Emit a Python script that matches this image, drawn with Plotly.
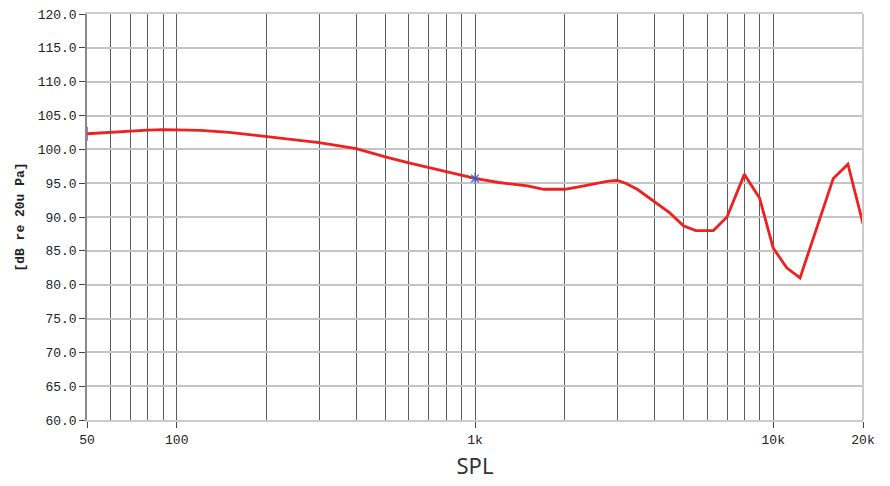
import plotly.graph_objects as go

# Frequency response data (Hz, dB re 20uPa)
freq_hz = [50, 60, 70, 80, 90, 100, 120, 150, 200, 300, 400, 480, 500, 600, 700, 800, 900,
           1000, 1200, 1500, 1700, 2000, 2250, 2500, 2800, 3000, 3200, 3500, 4000, 4500,
           5000, 5500, 6300, 7000, 8000, 9000, 10000, 11100, 12300, 15900, 17800, 20000]
spl_db = [102.3, 102.5, 102.75, 102.85, 102.9, 102.9, 102.8, 102.5, 101.9, 101.0, 100.1, 99.1, 98.9,
          98.0, 97.3, 96.7, 96.2, 95.7, 95.1, 94.6, 94.1, 94.1, 94.5, 94.9, 95.3, 95.4, 95.0,
          94.1, 92.3, 90.6, 88.7, 88.0, 88.0, 90.0, 96.3, 92.8, 85.4, 82.5, 81.0, 95.7, 97.8, 89.0]

cursor_hz = [50, 1000]
cursor_db = [102.3, 95.7]

major_ticks = [50, 100, 1000, 10000, 20000]
major_labels = ["50", "100", "1k", "10k", "20k"]
grid_hz = [60, 70, 80, 90, 100, 200, 300, 400, 500, 600, 700, 800, 900,
           1000, 2000, 3000, 4000, 5000, 6000, 7000, 8000, 9000, 10000]

y_ticks = [60, 65, 70, 75, 80, 85, 90, 95, 100, 105, 110, 115, 120]

mono = "Liberation Mono"

fig = go.Figure()
fig.add_trace(go.Scatter(x=freq_hz, y=spl_db, mode="lines",
                         line=dict(color="#ee2020", width=2.8), showlegend=False))
fig.add_trace(go.Scatter(x=cursor_hz[1:], y=cursor_db[1:], mode="markers",
                         marker=dict(symbol="asterisk-open", size=9, color="#4060c0",
                                     line=dict(width=1.2, color="#4060c0")),
                         showlegend=False))
fig.add_trace(go.Scatter(x=cursor_hz[:1], y=cursor_db[:1], mode="markers",
                         marker=dict(symbol="line-ns-open", size=10, color="#a040a0",
                                     line=dict(width=1.5, color="#a040a0")),
                         showlegend=False))

# page body adds an 8px offset, so the figure is sized to fit the 890x486 window
fig.update_layout(
    width=882, height=478,
    margin=dict(l=79, r=27, t=6, b=66, autoexpand=False),
    paper_bgcolor="white", plot_bgcolor="white",
    xaxis=dict(
        type="log", range=[1.69897, 4.30103], automargin=False,
        tickmode="array", tickvals=major_ticks, ticktext=major_labels,
        ticks="outside", ticklen=6, tickwidth=1, tickcolor="#444",
        tickfont=dict(family=mono, size=13, color="#222"),
        ticklabeloverflow="allow",
        showgrid=False, zeroline=False,
        showline=True, linecolor="#cccccc", linewidth=2, mirror=True,
        minor=dict(tickmode="array", tickvals=grid_hz, showgrid=True,
                   gridcolor="#5a5a5a", gridwidth=1.4, ticks=""),
        title=dict(text="SPL", font=dict(family="Noto Sans", size=22, color="#333"), standoff=12),
    ),
    yaxis=dict(
        range=[60, 120], tickmode="array", tickvals=y_ticks, automargin=False,
        tickformat=".1f",
        ticks="outside", ticklen=6, tickwidth=1, tickcolor="#444",
        tickfont=dict(family=mono, size=13, color="#222"),
        ticklabeloverflow="allow",
        showgrid=True, gridcolor="#c4c4c4", gridwidth=1.8, zeroline=False,
        showline=True, linecolor="#888888", linewidth=1.5,
        title=dict(text="<b>[dB re 20u Pa]</b>", font=dict(family=mono, size=13, color="#222"), standoff=10),
    ),
    shapes=[dict(type="line", xref="paper", yref="paper", x0=1, x1=1, y0=0, y1=1,
                 line=dict(color="#cccccc", width=2))],
)

fig.write_html("out.html")
